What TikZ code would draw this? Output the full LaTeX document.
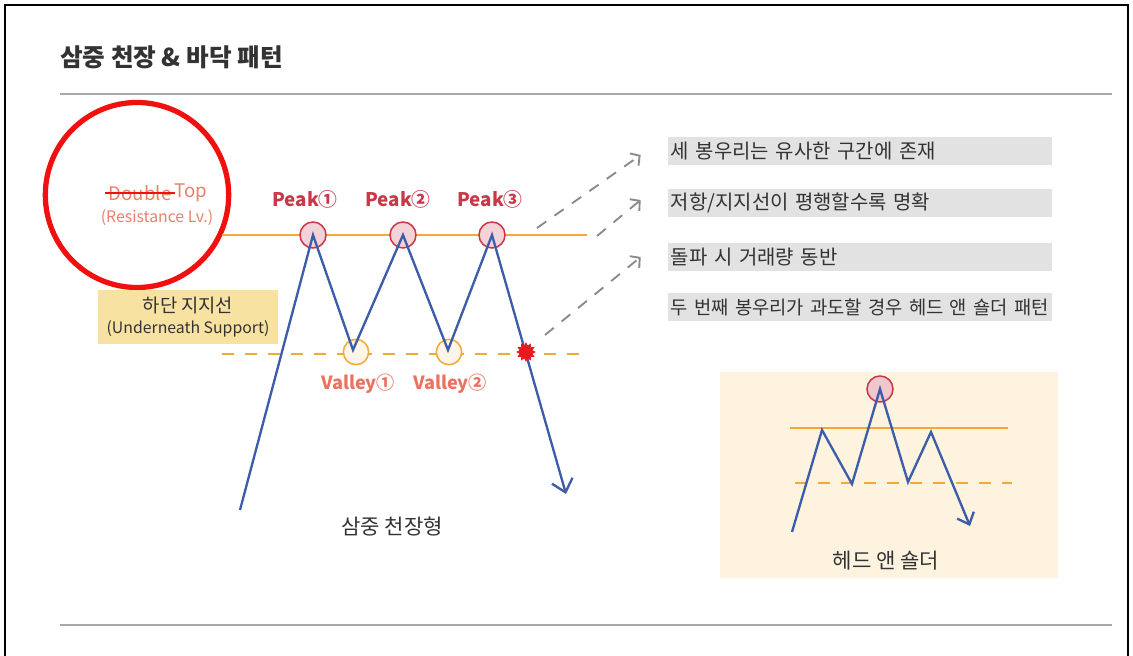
\documentclass[tikz,border=0pt]{standalone}
\usepackage{fontspec}
\setmainfont{Noto Sans CJK KR}
\usetikzlibrary{arrows.meta,positioning,shapes.geometric}
\definecolor{Ink}{HTML}{333333}
\definecolor{Rule}{HTML}{A8A8A8}
\definecolor{Alarm}{HTML}{F01010}
\definecolor{Crimson}{HTML}{C83848}
\definecolor{Salmon}{HTML}{E8806A}
\definecolor{Amber}{HTML}{F2A93B}
\definecolor{Trend}{HTML}{3D5DAA}
\definecolor{Note}{HTML}{E2E2E2}
\definecolor{Sand}{HTML}{F8E2A2}
\definecolor{Cream}{HTML}{FDF3DE}
\definecolor{Hint}{HTML}{8A8A8A}

\begin{document}
\begin{tikzpicture}[x=0.3mm,y=-0.3mm,node distance=0pt,
notebox/.style={fill=Note,anchor=west,text width=113.6mm,minimum height=8.6mm,inner xsep=0.8mm,font=\fontsize{17}{19}\selectfont,text=Ink},
peakring/.style={circle,draw=Crimson,fill=Crimson!22,line width=1.3pt,minimum size=7.8mm,inner sep=0pt},
valleyring/.style={circle,draw=Amber,fill=Amber!12,line width=1.3pt,minimum size=7.6mm,inner sep=0pt},
peaklabel/.style={text=Crimson,font=\fontsize{16}{18}\bfseries\selectfont},
valleylabel/.style={text=Salmon!90!red,font=\fontsize{15.5}{18}\bfseries\selectfont},
trend/.style={draw=Trend,line width=2pt,line join=miter},
resist/.style={draw=Amber,line width=1.6pt},
support/.style={draw=Amber,line width=1.6pt,dash pattern=on 3.6mm off 3.3mm},
hint/.style={draw=Hint,line width=1.6pt,dash pattern=on 3.4mm off 3mm,-{Straight Barb[length=2mm,width=4.5mm]}},
caption/.style={text=Ink,font=\fontsize{18}{21}\selectfont}]
\useasboundingbox (0,0) rectangle (1133,656);
\draw[black,line width=0.9pt] (5,700) -- (5,5) -- (1128,5) -- (1128,700);
\node[anchor=west,text=Ink,font=\fontsize{21}{24}\bfseries\selectfont](title) at (56,57){삼중 천장 \& 바닥 패턴};
\draw[Rule,line width=1.2pt] (60,94) -- (1112,94);\draw[Rule,line width=1.2pt] (60,625) -- (1112,625);

% left labels
\node[draw=Alarm,line width=4.5pt,ellipse,minimum width=55mm,minimum height=55.5mm](mark) at (137,195){};
\node[text=Salmon,inner sep=1pt,font=\fontsize{16}{18}\selectfont](dbl) at (140,193){Double};
\node[text=Salmon,inner sep=1pt,right=0pt of dbl,font=\fontsize{16}{18}\selectfont](tp){Top};
\draw[Alarm,line width=1.5pt] ([xshift=-0.6mm]dbl.west) -- ([xshift=0.6mm]dbl.east);
\node[text=Salmon,font=\fontsize{13.5}{15}\selectfont](lv) at (157,218){(Resistance Lv.)};
\node[fill=Sand,minimum width=54mm,minimum height=16.2mm,align=center,text=Ink,font=\fontsize{16}{19}\selectfont](sup) at (188,317){하단 지지선\\[-1pt]{\fontsize{13.5}{15}\selectfont(Underneath Support)}};

% levels
\draw[resist] (222,235) -- (587,235);
\draw[support] (222,354) -- (590,354);

% pattern points
\coordinate (a0) at (240,510);\coordinate (p1) at (313,235);\coordinate (v1) at (353,350);\coordinate (p2) at (403,235);
\coordinate (v2) at (448,350);\coordinate (p3) at (492,235);\coordinate (a9) at (566,494);
\node[valleyring](vr1) at (356,352){};\node[valleyring](vr2) at (449,352){};
\node[peakring](pr1) at (p1){};\node[peakring](pr2) at (p2){};\node[peakring](pr3) at (p3){};
\draw[trend,-{Straight Barb[length=3.6mm,width=6.4mm]}] (a0) -- (p1) -- (v1) -- (p2) -- (v2) -- (p3) -- (a9);
\node[star,star points=12,star point ratio=1.5,fill=Alarm!75!Crimson,minimum size=6mm,inner sep=0pt](brk) at (526,352){};
\node[peaklabel](pl1) at (305,199){Peak①};\node[peaklabel](pl2) at (398,199){Peak②};\node[peaklabel](pl3) at (490,199){Peak③};
\node[valleylabel](vl1) at (358,384){Valley①};\node[valleylabel](vl2) at (450,384){Valley②};
\node[caption](main) at (392,526){삼중 천장형};

% notes
\node[notebox](b1) at (668,151){세 봉우리는 유사한 구간에 존재};
\node[notebox](b2) at (668,203){저항/지지선이 평행할수록 명확};
\node[notebox](b3) at (668,257){돌파 시 거래량 동반};
\node[notebox,font=\fontsize{16}{18}\selectfont](b4) at (668,307){두 번째 봉우리가 과도할 경우 헤드 앤 숄더 패턴};
\coordinate (s1) at (537,228);\coordinate (s2) at (597,236);\coordinate (s3) at (545,335);
\draw[hint] (s1) -- ([xshift=-8.2mm,yshift=-1.2mm]b1.west);
\draw[hint] (s2) -- ([xshift=-8.2mm,yshift=0.9mm]b2.west);
\draw[hint] (s3) -- ([xshift=-8.2mm]b3.west);

% head and shoulders
\fill[Cream] (720,372) rectangle (1058,578);
\draw[resist] (790,428) -- (1008,428);
\draw[support] (795,483) -- (1012,483);
\coordinate (h0) at (792,532);\coordinate (h1) at (822,430);\coordinate (h2) at (852,484);\coordinate (h3) at (880,389);
\coordinate (h4) at (908,482);\coordinate (h5) at (931,432);\coordinate (h6) at (970,526);
\node[peakring,fill=Crimson!28](hr) at (h3){};
\draw[trend,-{Straight Barb[length=3mm,width=5.4mm]}] (h0) -- (h1) -- (h2) -- (h3) -- (h4) -- (h5) -- (h6);
\node[caption](hs) at (886,561){헤드 앤 숄더};
\end{tikzpicture}
\end{document}
